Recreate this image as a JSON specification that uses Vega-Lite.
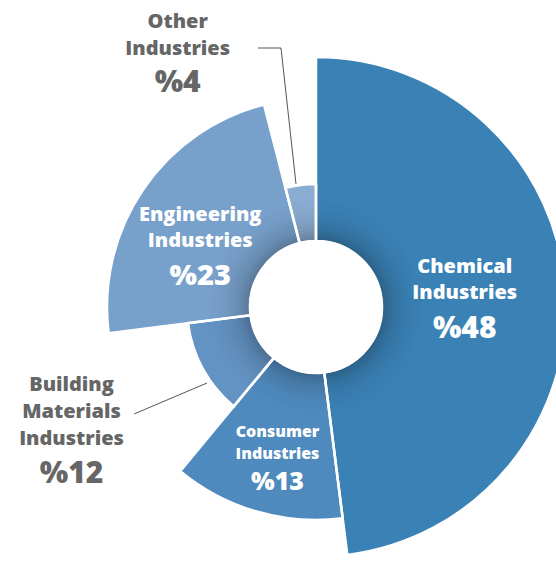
{
  "$schema": "https://vega.github.io/schema/vega-lite/v6.json",
  "width": 556,
  "height": 562,
  "autosize": "none",
  "padding": 0,
  "background": "white",
  "config": {"view": {"stroke": null}},
  "datasets": {
    "industries": [
      {"industry": "Chemical", "order": 1, "share": 48, "prominence": 250, "name": "Chemical\nIndustries", "pct": "%48"},
      {"industry": "Consumer", "order": 2, "share": 13, "prominence": 213, "name": "Consumer\nIndustries", "pct": "%13"},
      {"industry": "Building Materials", "order": 3, "share": 12, "prominence": 129, "name": "Building\nMaterials\nIndustries", "pct": "%12"},
      {"industry": "Engineering", "order": 4, "share": 23, "prominence": 209, "name": "Engineering\nIndustries", "pct": "%23"},
      {"industry": "Other", "order": 5, "share": 4, "prominence": 123, "name": "Other\nIndustries", "pct": "%4"}
    ],
    "leaders": [
      {"leader": "Other", "seq": 1, "px": -58, "py": 259},
      {"leader": "Other", "seq": 2, "px": -35, "py": 259},
      {"leader": "Other", "seq": 3, "px": -20, "py": 123},
      {"leader": "Building", "seq": 1, "px": -182, "py": -107},
      {"leader": "Building", "seq": 2, "px": -109, "py": -76}
    ]
  },
  "data": {"name": "industries"},
  "layer": [
    {
      "transform": [{"stack": "share", "groupby": [], "sort": [{"field": "order", "order": "ascending"}], "as": ["t0", "t1"]}],
      "mark": {"type": "arc", "x": 316, "y": 307, "radius2": 66},
      "encoding": {
        "theta": {"field": "t0", "type": "quantitative", "scale": {"domain": [0, 100]}},
        "theta2": {"field": "t1"},
        "radius": {"field": "prominence", "type": "quantitative", "scale": {"type": "linear", "domain": [0, 250], "range": [0, 250]}},
        "color": {"field": "industry", "type": "nominal", "legend": null,
          "scale": {"domain": ["Chemical", "Consumer", "Building Materials", "Engineering", "Other"],
                    "range": ["#3A81B5", "#4F8ABE", "#6393C3", "#77A0CB", "#8BACD1"]}}
      }
    },
    {
      "data": {"values": [{"ring": "shadow"}]},
      "mark": {"type": "arc", "x": 316, "y": 307, "theta": 0, "theta2": 6.2832, "radius": 108, "radius2": 66,
        "fill": {"gradient": "radial", "x1": 0.5, "y1": 0.5, "r1": 0, "x2": 0.5, "y2": 0.5, "r2": 0.5,
          "stops": [
            {"offset": 0.61, "color": "rgba(0,0,0,0.26)"},
            {"offset": 0.72, "color": "rgba(0,0,0,0.12)"},
            {"offset": 0.85, "color": "rgba(0,0,0,0.04)"},
            {"offset": 1, "color": "rgba(0,0,0,0)"}
          ]}},
      "encoding": {}
    },
    {
      "transform": [{"stack": "share", "groupby": [], "sort": [{"field": "order", "order": "ascending"}], "as": ["t0", "t1"]}],
      "mark": {"type": "arc", "x": 316, "y": 307, "radius2": 66, "fill": "transparent", "stroke": "white", "strokeWidth": 2.5},
      "encoding": {
        "theta": {"field": "t0", "type": "quantitative"},
        "theta2": {"field": "t1"},
        "radius": {"field": "prominence", "type": "quantitative"}
      }
    },
    {
      "data": {"values": [{"ring": "hole"}]},
      "mark": {"type": "arc", "x": 316, "y": 307, "theta": 0, "theta2": 6.2832, "radius": 67, "radius2": 0, "fill": "white"},
      "encoding": {}
    },
    {
      "data": {"name": "leaders"},
      "mark": {"type": "line", "stroke": "#555555", "strokeWidth": 1},
      "encoding": {
        "x": {"field": "px", "type": "quantitative", "scale": {"domain": [-316, 240], "nice": false, "zero": false}, "axis": null},
        "y": {"field": "py", "type": "quantitative", "scale": {"domain": [-255, 307], "nice": false, "zero": false}, "axis": null},
        "detail": {"field": "leader"},
        "order": {"field": "seq"}
      }
    },
    {
      "mark": {"type": "text", "x": 316, "y": 307, "radius": 149, "dy": -31, "font": "Open Sans", "fontWeight": 800, "fontSize": 20, "lineHeight": 26, "lineBreak": "\n", "align": "center", "baseline": "middle", "color": "white"},
      "encoding": {
        "theta": {"field": "share", "type": "quantitative", "stack": true},
        "order": {"field": "order"}, "detail": {"field": "industry"},
        "text": {"condition": {"test": "datum.industry === 'Chemical'", "field": "name"}, "value": ""}
      }
    },
    {
      "mark": {"type": "text", "x": 316, "y": 307, "radius": 149, "dy": 31, "font": "Open Sans", "fontWeight": 800, "fontSize": 30, "align": "center", "baseline": "middle", "color": "white"},
      "encoding": {
        "theta": {"field": "share", "type": "quantitative", "stack": true},
        "order": {"field": "order"}, "detail": {"field": "industry"},
        "text": {"condition": {"test": "datum.industry === 'Chemical'", "field": "pct"}, "value": ""}
      }
    },
    {
      "mark": {"type": "text", "x": 316, "y": 307, "radius": 138, "dy": -7.5, "font": "Open Sans", "fontWeight": 800, "fontSize": 16, "lineHeight": 21.5, "lineBreak": "\n", "align": "center", "baseline": "middle", "color": "white"},
      "encoding": {
        "theta": {"field": "share", "type": "quantitative", "stack": true},
        "order": {"field": "order"}, "detail": {"field": "industry"},
        "text": {"condition": {"test": "datum.industry === 'Consumer'", "field": "name"}, "value": ""}
      }
    },
    {
      "mark": {"type": "text", "x": 316, "y": 307, "radius": 138, "dy": 42, "font": "Open Sans", "fontWeight": 800, "fontSize": 25, "align": "center", "baseline": "middle", "color": "white"},
      "encoding": {
        "theta": {"field": "share", "type": "quantitative", "stack": true},
        "order": {"field": "order"}, "detail": {"field": "industry"},
        "text": {"condition": {"test": "datum.industry === 'Consumer'", "field": "pct"}, "value": ""}
      }
    },
    {
      "mark": {"type": "text", "x": 316, "y": 307, "radius": 279, "dy": -56, "font": "Open Sans", "fontWeight": 800, "fontSize": 20, "lineHeight": 27, "lineBreak": "\n", "align": "center", "baseline": "middle", "color": "#666666"},
      "encoding": {
        "theta": {"field": "share", "type": "quantitative", "stack": true},
        "order": {"field": "order"}, "detail": {"field": "industry"},
        "text": {"condition": {"test": "datum.industry === 'Building Materials'", "field": "name"}, "value": ""}
      }
    },
    {
      "mark": {"type": "text", "x": 316, "y": 307, "radius": 279, "dy": 32.5, "font": "Open Sans", "fontWeight": 800, "fontSize": 30, "align": "center", "baseline": "middle", "color": "#666666"},
      "encoding": {
        "theta": {"field": "share", "type": "quantitative", "stack": true},
        "order": {"field": "order"}, "detail": {"field": "industry"},
        "text": {"condition": {"test": "datum.industry === 'Building Materials'", "field": "pct"}, "value": ""}
      }
    },
    {
      "mark": {"type": "text", "x": 316, "y": 307, "radius": 140, "dy": -13, "font": "Open Sans", "fontWeight": 800, "fontSize": 20, "lineHeight": 26, "lineBreak": "\n", "align": "center", "baseline": "middle", "color": "white"},
      "encoding": {
        "theta": {"field": "share", "type": "quantitative", "stack": true},
        "order": {"field": "order"}, "detail": {"field": "industry"},
        "text": {"condition": {"test": "datum.industry === 'Engineering'", "field": "name"}, "value": ""}
      }
    },
    {
      "mark": {"type": "text", "x": 316, "y": 307, "radius": 140, "dy": 48, "font": "Open Sans", "fontWeight": 800, "fontSize": 29, "align": "center", "baseline": "middle", "color": "white"},
      "encoding": {
        "theta": {"field": "share", "type": "quantitative", "stack": true},
        "order": {"field": "order"}, "detail": {"field": "industry"},
        "text": {"condition": {"test": "datum.industry === 'Engineering'", "field": "pct"}, "value": ""}
      }
    },
    {
      "mark": {"type": "text", "x": 316, "y": 307, "radius": 250, "dx": -107, "dy": -37, "font": "Open Sans", "fontWeight": 800, "fontSize": 20, "lineHeight": 27, "lineBreak": "\n", "align": "center", "baseline": "middle", "color": "#666666"},
      "encoding": {
        "theta": {"field": "share", "type": "quantitative", "stack": true},
        "order": {"field": "order"}, "detail": {"field": "industry"},
        "text": {"condition": {"test": "datum.industry === 'Other'", "field": "name"}, "value": ""}
      }
    },
    {
      "mark": {"type": "text", "x": 316, "y": 307, "radius": 250, "dx": -107, "dy": 24, "font": "Open Sans", "fontWeight": 800, "fontSize": 30, "align": "center", "baseline": "middle", "color": "#666666"},
      "encoding": {
        "theta": {"field": "share", "type": "quantitative", "stack": true},
        "order": {"field": "order"}, "detail": {"field": "industry"},
        "text": {"condition": {"test": "datum.industry === 'Other'", "field": "pct"}, "value": ""}
      }
    }
  ]
}
